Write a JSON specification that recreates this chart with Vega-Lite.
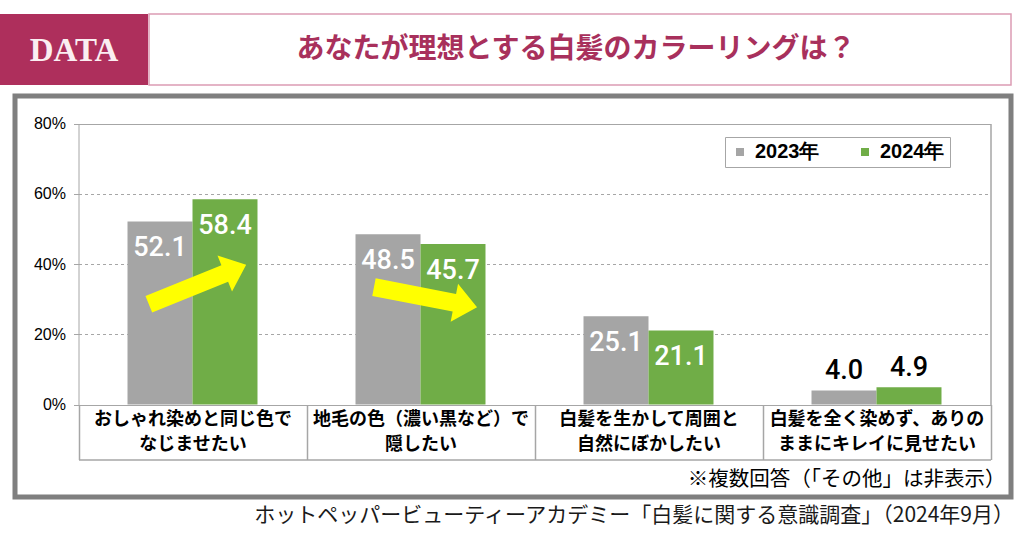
{
  "$schema": "https://vega.github.io/schema/vega-lite/v6.json",
  "padding": {"top": 13, "left": 0, "right": 0, "bottom": 0},
  "background": "#ffffff",
  "config": {"font": "Noto Sans CJK JP", "view": {"stroke": null}},
  "vconcat": [
    {
      "hconcat": [
        {
          "width": 148, "height": 71,
          "view": {"fill": "#ae2f5c", "stroke": null},
          "data": {"values": [{"label": "DATA"}]},
          "mark": {"type": "text", "font": "Liberation Serif", "fontSize": 33, "fontWeight": "bold", "color": "#fbeef2", "align": "center", "baseline": "middle", "dy": 1},
          "encoding": {"text": {"field": "label", "type": "nominal"}}
        },
        {
          "width": 862, "height": 71,
          "view": {"fill": "#ffffff", "stroke": "#dc9cb4", "strokeWidth": 1.5},
          "data": {"values": [{"label": "あなたが理想とする白髪のカラーリングは？"}]},
          "mark": {"type": "text", "font": "Noto Sans CJK JP", "fontSize": 28, "fontWeight": "bold", "color": "#a8305c", "align": "center", "baseline": "middle", "dx": -4},
          "encoding": {"text": {"field": "label", "type": "nominal"}}
        }
      ],
      "spacing": 0
    },
    {
      "hconcat": [
        {
          "width": 12, "height": 10,
          "data": {"values": []},
          "mark": {"type": "point", "opacity": 0},
          "view": {"stroke": null}
        },
        {
          "width": 996, "height": 401,
          "view": {"stroke": "#7f7f7f", "strokeWidth": 5, "fill": "#ffffff"},
          "title": {"text": "ホットペッパービューティーアカデミー「白髪に関する意識調査」（2024年9月）", "orient": "bottom", "anchor": "end", "frame": "group", "font": "Noto Sans CJK JP", "fontSize": 21, "fontWeight": "normal", "color": "#1a1a1a", "offset": 8, "dx": 3},
          "data": {"values": [
            {"category": "おしゃれ染めと同じ色でなじませたい", "year": "2023年", "pct": 52.1},
            {"category": "おしゃれ染めと同じ色でなじませたい", "year": "2024年", "pct": 58.4},
            {"category": "地毛の色（濃い黒など）で隠したい", "year": "2023年", "pct": 48.5},
            {"category": "地毛の色（濃い黒など）で隠したい", "year": "2024年", "pct": 45.7},
            {"category": "白髪を生かして周囲と自然にぼかしたい", "year": "2023年", "pct": 25.1},
            {"category": "白髪を生かして周囲と自然にぼかしたい", "year": "2024年", "pct": 21.1},
            {"category": "白髪を全く染めず、ありのままにキレイに見せたい", "year": "2023年", "pct": 4.0},
            {"category": "白髪を全く染めず、ありのままにキレイに見せたい", "year": "2024年", "pct": 4.9}
          ]},
          "encoding": {
            "x": {
              "field": "category", "type": "nominal", "sort": null,
              "scale": {"range": [63.5, 975.5], "paddingInner": 0, "paddingOuter": 0},
              "axis": {
                "orient": "bottom", "offset": -37.5, "tickBand": "extent", "tickSize": -55,
                "tickColor": "#a6a6a6", "tickWidth": 1.5, "domainColor": "#a6a6a6", "domainWidth": 1.5,
                "grid": false, "labelAngle": 0, "labelFont": "Noto Sans CJK JP", "labelFontSize": 18,
                "labelFontWeight": "bold", "labelColor": "#000000", "labelBaseline": "top", "labelAlign": "center",
                "labelLineHeight": 25, "labelPadding": 6, "labelLimit": 0, "labelOverlap": false,
                "labelExpr": "datum.label === 'おしゃれ染めと同じ色でなじませたい' ? ['おしゃれ染めと同じ色で', 'なじませたい'] : datum.label === '地毛の色（濃い黒など）で隠したい' ? ['地毛の色（濃い黒など）で', '隠したい'] : datum.label === '白髪を生かして周囲と自然にぼかしたい' ? ['白髪を生かして周囲と', '自然にぼかしたい'] : datum.label === '白髪を全く染めず、ありのままにキレイに見せたい' ? ['白髪を全く染めず、ありの', 'ままにキレイに見せたい'] : ''",
                "title": "※複数回答（「その他」は非表示）", "titleAnchor": "end", "titleAlign": "right", "titleX": 990,
                "titleFont": "Noto Sans CJK JP",
                "titleFontSize": 20.5, "titleFontWeight": "normal", "titleColor": "#000000", "titlePadding": 9
              }
            }
          },
          "layer": [
            {
              "mark": {"type": "bar"},
              "encoding": {
                "xOffset": {"field": "year", "type": "nominal", "scale": {"paddingOuter": 0.754, "paddingInner": 0}},
                "y": {
                  "field": "pct", "type": "quantitative",
                  "scale": {"domain": [0, 80], "range": [308.5, 27.5], "nice": false},
                  "axis": {
                    "orient": "left", "offset": -63.5, "values": [0, 20, 40, 60, 80],
                    "labelExpr": "datum.value + '%'", "labelFont": "Liberation Sans", "labelFontSize": 16,
                    "labelColor": "#000000", "labelPadding": 8, "tickSize": 5, "tickColor": "#a6a6a6",
                    "domainColor": "#a6a6a6", "grid": true, "gridColor": "#a6a6a6",
                    "gridDash": {"condition": {"test": "datum.value === 0 || datum.value === 80", "value": []}, "value": [3, 3]},
                    "title": null
                  }
                },
                "color": {
                  "field": "year", "type": "nominal",
                  "scale": {"domain": ["2023年", "2024年"], "range": ["#a5a5a5", "#70ad47"]},
                  "legend": {
                    "orient": "none", "legendX": 725, "legendY": 123, "direction": "horizontal",
                    "title": null,
                    "symbolType": "square", "symbolSize": 64, "symbolStrokeWidth": 0,
                    "labelFont": "Liberation Sans", "labelFontSize": 20, "labelFontWeight": "bold",
                    "labelColor": "#000000", "labelOffset": 5, "columnPadding": 35, "padding": 5,
                    "strokeColor": "#a6a6a6", "fillColor": "#ffffff"
                  }
                }
              }
            },
            {
              "transform": [{"filter": "datum.pct >= 10"}],
              "mark": {"type": "text", "font": "Roboto", "fontWeight": 500, "fontSize": 27, "color": "#ffffff", "baseline": "middle", "align": "center", "dy": 27},
              "encoding": {
                "xOffset": {"field": "year", "type": "nominal"},
                "y": {
                  "field": "pct", "type": "quantitative",
                  "axis": {"orient": "right", "offset": -20.5, "labels": false, "ticks": false, "grid": false, "domain": true, "domainColor": "#a6a6a6", "domainWidth": 1.5, "title": null}
                },
                "text": {"field": "pct", "type": "quantitative", "format": ".1f"}
              }
            },
            {
              "transform": [{"filter": "datum.pct < 10"}],
              "mark": {"type": "text", "font": "Roboto", "fontWeight": 500, "fontSize": 27, "color": "#000000", "baseline": "middle", "align": "center", "dy": -19},
              "encoding": {
                "xOffset": {"field": "year", "type": "nominal"},
                "y": {"field": "pct", "type": "quantitative", "axis": null},
                "text": {"field": "pct", "type": "quantitative", "format": ".1f"}
              }
            },
            {
              "transform": [{"filter": "datum.year === '2023年' && (datum.category === 'おしゃれ染めと同じ色でなじませたい' || datum.category === '地毛の色（濃い黒など）で隠したい')"}],
              "mark": {"type": "point", "shape": "M-1,-0.17L0.56,-0.17L0.56,-0.37L1,0L0.56,0.37L0.56,0.17L-1,0.17Z", "filled": true, "color": "#ffff00", "opacity": 1, "strokeWidth": 0, "size": 11025, "yOffset": 63, "xOffset": 5},
              "encoding": {
                "y": {"field": "pct", "type": "quantitative", "axis": null},
                "angle": {"condition": {"test": "datum.category === 'おしゃれ染めと同じ色でなじませたい'", "value": 338}, "value": 11}
              }
            }
          ],
          "resolve": {"axis": {"y": "independent"}}
        }
      ],
      "spacing": 0
    }
  ],
  "spacing": 7
}
